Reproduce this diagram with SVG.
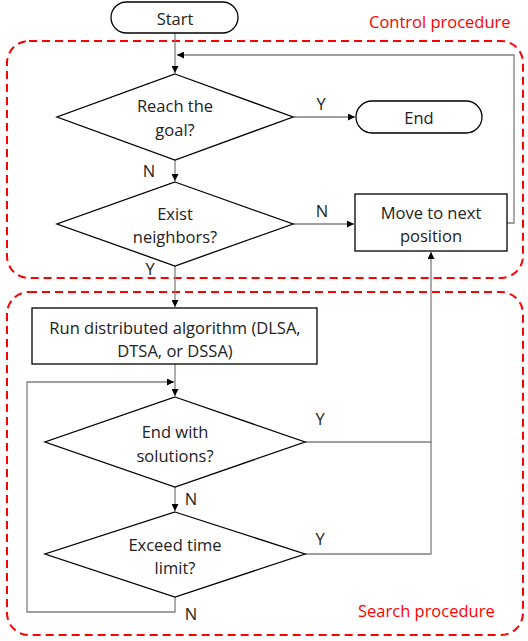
<svg xmlns="http://www.w3.org/2000/svg" width="528" height="641" viewBox="0 0 528 641">
<style>
.node{fill:#fff;stroke:#000;stroke-width:1.3}
.t{font-family:"Open Sans","Liberation Sans",Arial,sans-serif;font-size:16.5px;fill:#222;text-anchor:middle;dominant-baseline:central}
.lbl{font-family:"Open Sans","Liberation Sans",Arial,sans-serif;font-size:16.5px;fill:#222;text-anchor:middle;dominant-baseline:central}
.red{font-family:"Open Sans","Liberation Sans",Arial,sans-serif;font-size:16.5px;fill:#ff0000;dominant-baseline:central}
.con{fill:none;stroke:#808080;stroke-width:1.3}
.grp{fill:none;stroke:#ff0000;stroke-width:2;stroke-dasharray:8 5}
</style>
<defs>
<marker id="ah" viewBox="0 0 10 10" refX="10" refY="5" markerWidth="7" markerHeight="7" orient="auto" markerUnits="userSpaceOnUse">
<path d="M0,0 L10,5 L0,10 z" fill="#000"/>
</marker>
</defs>
<g id="groups">
<rect class="grp" x="7" y="41" width="516" height="237" rx="22"/>
<text class="red" x="369" y="21">Control procedure</text>
<rect class="grp" x="7" y="292" width="516" height="343" rx="22"/>
<text class="red" x="358" y="610">Search procedure</text>
</g>
<g id="connectors">
<path class="con" d="M175,33 V73" marker-end="url(#ah)"/>
<path class="con" d="M507,223 H514 V55 H177" marker-end="url(#ah)"/>
<path class="con" d="M293,117 H355" marker-end="url(#ah)"/>
<path class="con" d="M175,160 V181" marker-end="url(#ah)"/>
<path class="con" d="M293,224 H354" marker-end="url(#ah)"/>
<path class="con" d="M175,266 V307" marker-end="url(#ah)"/>
<path class="con" d="M175,364 V396" marker-end="url(#ah)"/>
<path class="con" d="M305,442 H431 V252" marker-end="url(#ah)"/>
<path class="con" d="M175,487 V511" marker-end="url(#ah)"/>
<path class="con" d="M305,554 H431 V442"/>
<path class="con" d="M175,597 V612 H27 V382 H174" marker-end="url(#ah)"/>
<text class="lbl" x="321" y="103">Y</text>
<text class="lbl" x="149" y="170">N</text>
<text class="lbl" x="322" y="210">N</text>
<text class="lbl" x="150" y="268">Y</text>
<text class="lbl" x="320" y="418">Y</text>
<text class="lbl" x="191" y="498">N</text>
<text class="lbl" x="320" y="538">Y</text>
<text class="lbl" x="191" y="613">N</text>
</g>
<g id="start">
<rect class="node" x="111" y="2" width="127" height="31" rx="15.5"/>
<text class="t" x="175" y="18">Start</text>
</g>
<g id="reach-goal">
<polygon class="node" points="175,74 293,117 175,160 57,117"/>
<text class="t" x="175" y="105">Reach the</text>
<text class="t" x="175" y="129">goal?</text>
</g>
<g id="end">
<rect class="node" x="356" y="101" width="126" height="32" rx="16"/>
<text class="t" x="419" y="117">End</text>
</g>
<g id="exist-neighbors">
<polygon class="node" points="175,182 293,224 175,266 57,224"/>
<text class="t" x="175" y="213">Exist</text>
<text class="t" x="175" y="236">neighbors?</text>
</g>
<g id="move">
<rect class="node" x="355" y="194" width="152" height="57"/>
<text class="t" x="431" y="212">Move to next</text>
<text class="t" x="431" y="235">position</text>
</g>
<g id="run">
<rect class="node" x="32" y="308" width="285" height="56"/>
<text class="t" x="175" y="327">Run distributed algorithm (DLSA,</text>
<text class="t" x="175" y="350">DTSA, or DSSA)</text>
</g>
<g id="end-solutions">
<polygon class="node" points="175,397 305,442 175,487 45,442"/>
<text class="t" x="175" y="431">End with</text>
<text class="t" x="175" y="455">solutions?</text>
</g>
<g id="exceed-time">
<polygon class="node" points="175,512 305,554 175,597 45,554"/>
<text class="t" x="175" y="544">Exceed time</text>
<text class="t" x="175" y="567">limit?</text>
</g>
</svg>
